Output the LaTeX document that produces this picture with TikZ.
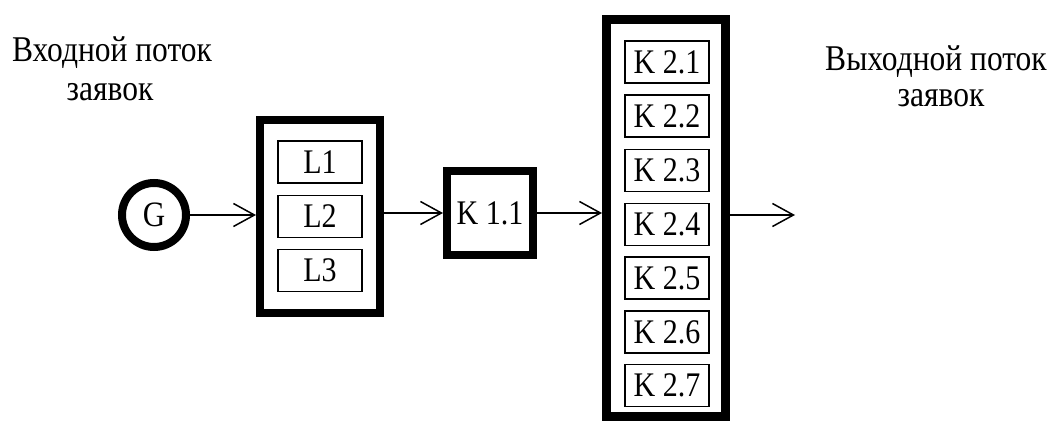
\documentclass[tikz,border=0pt]{standalone}
\usepackage{fontspec}
\setmainfont{Liberation Serif}
\usetikzlibrary{arrows.meta}
\newcommand{\vst}[1]{\scalebox{1}[1.15]{#1}}
\begin{document}
\begin{tikzpicture}[x=1pt,y=-1pt,
  bigbox/.style={draw,line width=8pt,inner sep=0pt,outer sep=4pt,rectangle},
  smallbox/.style={draw,line width=1.5pt,inner sep=0pt,outer sep=0.75pt,rectangle,
     minimum width=84pt,minimum height=42pt,font=\fontsize{30}{30}\selectfont},
  gen/.style={draw,circle,line width=8pt,minimum size=64pt,inner sep=0pt,outer sep=4pt,
     font=\fontsize{31}{31}\selectfont},
  lbl/.style={inner sep=0pt,font=\fontsize{31.5}{31.5}\selectfont},
  flow/.style={line width=1.5pt,-{Straight Barb[length=21pt,width=23pt,line width=1.5pt]}}
]
\useasboundingbox (0,0) rectangle (1048,422);
\fill[white] (0,0) rectangle (1048,422);

\node[lbl] (in1) at (112,53) {\vst{Входной поток}};
\node[lbl] (in2) at (110,92) {\vst{заявок}};
\node[lbl] (out1) at (936,62) {\vst{Выходной поток}};
\node[lbl] (out2) at (941,98) {\vst{заявок}};

\node[gen] (G) at (154,215) {\vst{G}};

\node[bigbox,minimum width=120pt,minimum height=193pt] (Lbox) at (320,216.5) {};
\node[smallbox] (L1) at (320,162) {\vst{L1}};
\node[smallbox] (L2) at (320,216.5) {\vst{L2}};
\node[smallbox] (L3) at (320,270.5) {\vst{L3}};

\node[bigbox,minimum width=86pt,minimum height=84pt,font=\fontsize{30}{30}\selectfont] (K11) at (490,213) {\vst{K 1.1}};

\node[bigbox,line width=9pt,outer sep=4.5pt,minimum width=119pt,minimum height=397pt] (K2box) at (666,218) {};
\node[smallbox] (K21) at (667,62) {\vst{K 2.1}};
\node[smallbox] (K22) at (667,116) {\vst{K 2.2}};
\node[smallbox] (K23) at (667,170.5) {\vst{K 2.3}};
\node[smallbox] (K24) at (667,224.5) {\vst{K 2.4}};
\node[smallbox] (K25) at (667,278) {\vst{K 2.5}};
\node[smallbox] (K26) at (667,332) {\vst{K 2.6}};
\node[smallbox] (K27) at (667,385.5) {\vst{K 2.7}};

\coordinate (out) at (795,215);

\draw[flow] (G.east) -- (G.east -| Lbox.west);
\draw[flow] (Lbox.east |- K11.west) -- (K11.west);
\draw[flow] (K11.east) -- (K11.east -| K2box.west);
\draw[flow] (K2box.east |- out) -- (out);
\end{tikzpicture}
\end{document}
